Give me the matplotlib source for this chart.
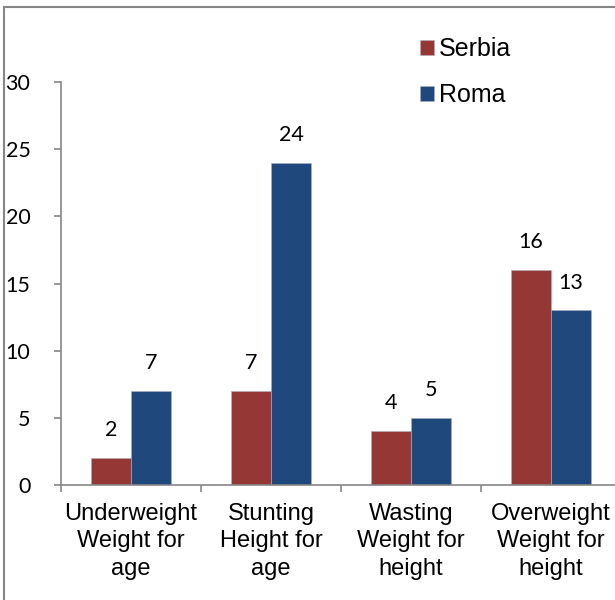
import matplotlib.pyplot as plt
import matplotlib.patches as mpatches
import numpy as np

categories = ['Underweight\nWeight for\nage', 'Stunting\nHeight for\nage',
              'Wasting\nWeight for\nheight', 'Overweight\nWeight for\nheight']
serbia = [2, 7, 4, 16]
roma = [7, 24, 5, 13]
series_names = ['Serbia', 'Roma']
colors = ['#953735', '#1F497D']

fig = plt.figure(figsize=(6.15, 6.0), dpi=100)
ax = fig.add_axes([61 / 615, 1 - 485 / 600, 560 / 615, (485 - 82) / 600])

x = np.arange(len(categories))
w = 40 / 140
b1 = ax.bar(x - w / 2, serbia, w, color=colors[0], label=series_names[0],
            edgecolor='#b0b0c0', linewidth=0.4)
b2 = ax.bar(x + w / 2, roma, w, color=colors[1], label=series_names[1],
            edgecolor='#b0b0c0', linewidth=0.4)

# value labels above bars
for bars, vals in ((b1, serbia), (b2, roma)):
    for r, v in zip(bars, vals):
        ax.annotate(str(v), (r.get_x() + r.get_width() / 2, v),
                    xytext=(0, 20), textcoords='offset points',
                    ha='center', va='center', fontsize=15.5, family='Lato')

ax.set_xlim(-0.5, 3.5)
ax.set_ylim(0, 30)
ax.set_yticks(range(0, 31, 5))
ax.set_xticks(x)
ax.set_xticklabels(categories, fontsize=17, family='Liberation Sans',
                   linespacing=1.32)
ax.set_xticks(np.arange(-0.5, 3.6, 1), minor=True)
ax.tick_params(axis='x', which='major', length=0, pad=13)
ax.tick_params(axis='x', which='minor', length=5, color='#868686', width=1.2)
ax.tick_params(axis='y', length=5, color='#868686', width=1.2, pad=17,
               labelsize=15.5)
for lab in ax.get_yticklabels():
    lab.set_family('Lato')

for s in ('top', 'right'):
    ax.spines[s].set_visible(False)
for s in ('left', 'bottom'):
    ax.spines[s].set_color('#868686')
    ax.spines[s].set_linewidth(1.2)

fig.legend(loc='upper left', bbox_to_anchor=(410 / 615, 1 - 27 / 600),
           frameon=False, prop={'family': 'Liberation Sans', 'size': 18},
           handlelength=0.55, handleheight=0.55, handletextpad=0.2,
           labelspacing=0.88, borderaxespad=0)

# outer chart frame (right and bottom edges fall outside the image)
fig.patches.append(mpatches.Rectangle((4 / 615, -0.05), 1.1, 1 - 7 / 600 + 0.05,
                                      transform=fig.transFigure, fill=False,
                                      edgecolor='#868686', linewidth=1.5))

fig.savefig('out.png', dpi=100)
